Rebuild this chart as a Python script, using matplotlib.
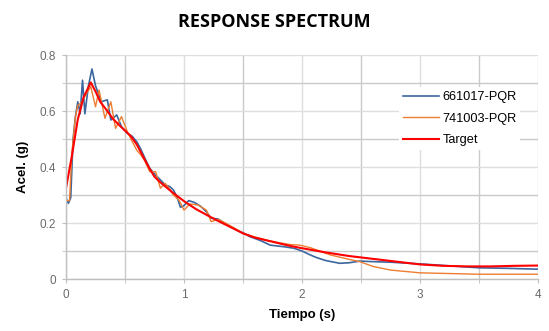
import matplotlib.pyplot as plt
import numpy as np

# periods (s) and spectral accelerations (g)
t_661017 = [0, 0.02, 0.04, 0.06, 0.08, 0.10, 0.12, 0.14, 0.16, 0.19, 0.22, 0.25, 0.30,
            0.35, 0.38, 0.43, 0.47, 0.52, 0.56, 0.60, 0.63, 0.67, 0.71, 0.75, 0.80,
            0.84, 0.88, 0.91, 0.94, 0.97, 1.00, 1.04, 1.09, 1.14, 1.19, 1.23, 1.29,
            1.36, 1.43, 1.50, 1.56, 1.65, 1.73, 1.85, 1.93, 2.00, 2.07, 2.12, 2.20,
            2.32, 2.40, 2.49, 2.60, 2.75, 3.00, 3.25, 3.50, 3.75, 4.00]
sa_661017 = [0.29, 0.27, 0.29, 0.50, 0.58, 0.633, 0.59, 0.71, 0.59, 0.69, 0.75, 0.69, 0.633,
             0.64, 0.568, 0.586, 0.544, 0.52, 0.51, 0.49, 0.467, 0.43, 0.395, 0.375, 0.354,
             0.336, 0.33, 0.318, 0.294, 0.256, 0.262, 0.28, 0.273, 0.26, 0.24, 0.217, 0.214,
             0.195, 0.178, 0.165, 0.151, 0.137, 0.121, 0.115, 0.11, 0.10, 0.086, 0.077, 0.066,
             0.056, 0.058, 0.064, 0.062, 0.060, 0.054, 0.047, 0.040, 0.038, 0.035]

t_741003 = [0, 0.03, 0.05, 0.08, 0.10, 0.13, 0.17, 0.21, 0.25, 0.28, 0.33, 0.38, 0.42,
            0.47, 0.52, 0.55, 0.60, 0.64, 0.67, 0.71, 0.76, 0.80, 0.84, 0.88, 0.91,
            0.96, 1.00, 1.05, 1.12, 1.19, 1.23, 1.29, 1.36, 1.43, 1.50, 1.60, 1.70,
            1.80, 1.90, 1.98, 2.07, 2.24, 2.40, 2.49, 2.60, 2.75, 3.00, 3.50, 4.00]
sa_741003 = [0.28, 0.28, 0.45, 0.58, 0.62, 0.63, 0.66, 0.687, 0.615, 0.675, 0.574, 0.633, 0.538,
             0.58, 0.526, 0.50, 0.46, 0.44, 0.42, 0.383, 0.383, 0.324, 0.342, 0.32, 0.30,
             0.28, 0.246, 0.268, 0.264, 0.246, 0.205, 0.213, 0.198, 0.181, 0.163, 0.15, 0.139,
             0.13, 0.123, 0.121, 0.112, 0.086, 0.07, 0.062, 0.045, 0.032, 0.022, 0.017, 0.017]

t_target = [0, 0.05, 0.10, 0.15, 0.21, 0.25, 0.29, 0.35, 0.40, 0.45, 0.51, 0.55, 0.60,
            0.65, 0.70, 0.75, 0.80, 0.90, 1.00, 1.10, 1.20, 1.30, 1.43, 1.50, 1.60,
            1.70, 1.80, 1.90, 2.00, 2.20, 2.40, 2.60, 2.80, 3.00, 3.20, 3.40, 3.60,
            3.80, 4.00]
sa_target = [0.324, 0.44, 0.57, 0.65, 0.702, 0.67, 0.633, 0.60, 0.571, 0.55, 0.526, 0.51, 0.48,
             0.44, 0.40, 0.365, 0.345, 0.31, 0.278, 0.25, 0.227, 0.205, 0.178, 0.163, 0.148,
             0.138, 0.128, 0.118, 0.11, 0.095, 0.082, 0.072, 0.062, 0.052, 0.047, 0.045, 0.045,
             0.047, 0.048]

x_ticks = [0, 1, 2, 3, 4]
y_ticks = [0, 0.2, 0.4, 0.6, 0.8]

fig = plt.figure(figsize=(5.49, 3.31), dpi=100)
ax = fig.add_axes([66 / 549, 52 / 331, 472 / 549, 224 / 331])

ax.plot(t_661017, sa_661017, color='#3c669e', linewidth=1.2, label='661017-PQR')
ax.plot(t_741003, sa_741003, color='#ed7d31', linewidth=1.0, label='741003-PQR')
ax.plot(t_target, sa_target, color='#ff0000', linewidth=1.5, label='Target')

ax.set_xlim(0, 4)
ax.set_ylim(0, 0.8)
ax.set_xticks(x_ticks)
ax.set_xticklabels(['0', '1', '2', '3', '4'])
ax.set_xticks(np.arange(0.5, 4, 1.0), minor=True)
ax.set_yticks(y_ticks)
ax.set_yticklabels(['0', '0.2', '0.4', '0.6', '0.8'])
ax.set_yticks(np.arange(0.1, 0.8, 0.2), minor=True)

# gridlines (the odd ones look a bit darker in the original)
ax.grid(True, which='major', color='#dedede', linewidth=1.0)
ax.grid(True, which='minor', color='#cacaca', linewidth=1.0)
ax.set_axisbelow(True)

ax.tick_params(axis='both', which='both', length=3, color='#bfbfbf',
               labelsize=8.5, labelcolor='#6a6a6a', pad=4)

for s in ['top', 'right']:
    ax.spines[s].set_visible(False)
for s in ['left', 'bottom']:
    ax.spines[s].set_color('#bfbfbf')
    ax.spines[s].set_linewidth(1.0)

ax.set_title('RESPONSE SPECTRUM', fontsize=13, fontweight='bold',
             family='Open Sans', x=(274.5 - 66) / 472, y=1.0, pad=20)
ax.set_xlabel('Tiempo (s)', fontsize=9.5, fontweight='bold', family='Liberation Sans', labelpad=6)
ax.set_ylabel('Acel. (g)', fontsize=9.5, fontweight='bold', family='Liberation Sans', labelpad=8)

leg = ax.legend(loc='upper left', bbox_to_anchor=(0.693, 0.885), frameon=True,
                fancybox=False, edgecolor='none', facecolor='white', framealpha=1,
                prop={'family': 'Liberation Sans', 'size': 9.2},
                handlelength=2.8, handletextpad=0.25, labelspacing=0.75, borderpad=0.3)

for lbl in ax.get_xticklabels() + ax.get_yticklabels():
    lbl.set_family('Liberation Sans')

plt.savefig('out.png', dpi=100)
